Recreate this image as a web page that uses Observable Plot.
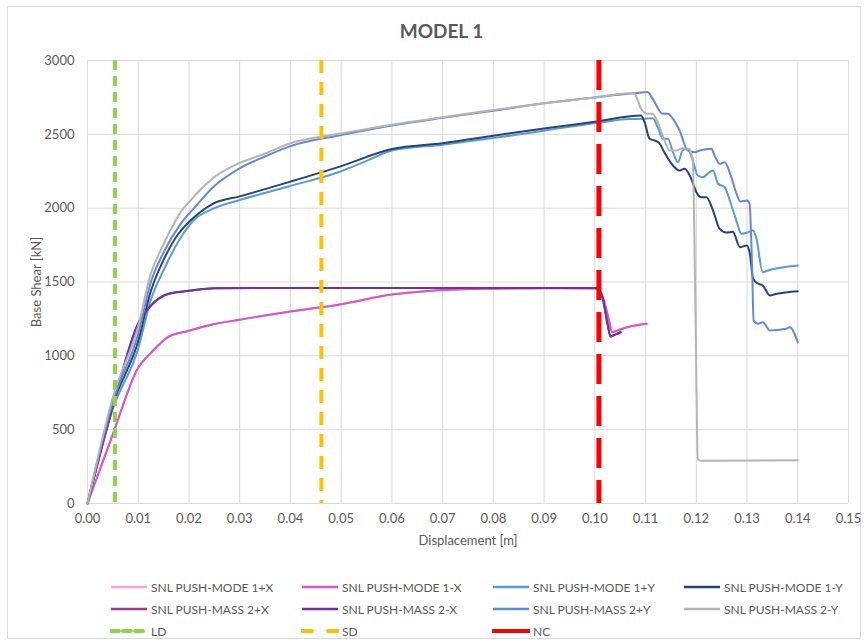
<!DOCTYPE html>
<html>
<head>
<meta charset="utf-8">
<script src="https://cdn.jsdelivr.net/npm/d3@7"></script>
<script src="https://cdn.jsdelivr.net/npm/@observablehq/plot@0.6"></script>
<style>
  html, body { margin: 0; padding: 0; background: #fff; }
  #wrap { position: relative; width: 865px; height: 644px; font-family: Lato, "Liberation Sans", Arial, sans-serif; color: #595959; overflow: hidden; }
  #frame { position: absolute; left: 7px; top: 6px; width: 854px; height: 633px; border: 1px solid #D9D9D9; box-sizing: border-box; }
  #title { position: absolute; left: 0; width: 883px; top: 19px; text-align: center; font-weight: bold; font-size: 19px; color: #595959; }
  #chart { position: absolute; left: 0; top: 0; }
  #legend { position: absolute; left: 0; top: 0; width: 865px; height: 644px; pointer-events: none; }
  .item { position: absolute; display: flex; align-items: center; font-size: 12px; color: #595959; white-space: nowrap; }
  .item svg { margin-right: 3px; }
</style>
</head>
<body>
<div id="wrap">
  <div id="frame"></div>
  <div id="chart"></div>
  <div id="title">MODEL 1</div>
  <div id="legend"></div>
</div>
<script>
// ---- tick values ----
const xTicks = [0, 0.01, 0.02, 0.03, 0.04, 0.05, 0.06, 0.07, 0.08, 0.09, 0.10, 0.11, 0.12, 0.13, 0.14, 0.15];
const yTicks = [0, 500, 1000, 1500, 2000, 2500, 3000];

// ---- series: [displacement m, base shear kN] ----
const mode1PosX = [[0,0],[0.005,470],[0.010,920],[0.0125,1020],[0.016,1130],[0.020,1170],[0.025,1215],[0.030,1245],[0.040,1300],[0.050,1350],[0.060,1415],[0.065,1432],[0.070,1445],[0.080,1455],[0.090,1458],[0.1005,1456],[0.1018,1375],[0.1028,1239],[0.1034,1160],[0.1044,1171],[0.1064,1194],[0.1102,1217]];
const mode1NegX = [[0,0],[0.005,470],[0.010,920],[0.0125,1020],[0.016,1130],[0.020,1170],[0.025,1215],[0.030,1245],[0.040,1300],[0.050,1350],[0.060,1415],[0.065,1432],[0.070,1445],[0.080,1455],[0.090,1458],[0.1005,1456],[0.1018,1375],[0.1028,1239],[0.1034,1160],[0.1044,1171],[0.1064,1194],[0.1102,1217]];
const mode1PosY = [[0,0],[0.005,640],[0.010,1050],[0.0125,1380],[0.015,1580],[0.018,1780],[0.021,1920],[0.025,2000],[0.030,2055],[0.040,2150],[0.050,2250],[0.055,2320],[0.060,2390],[0.070,2430],[0.080,2475],[0.090,2525],[0.100,2575],[0.1068,2603],[0.1095,2605],[0.1114,2609],[0.1124,2548],[0.1134,2470],[0.1144,2470],[0.1154,2379],[0.1164,2311],[0.1173,2391],[0.1183,2402],[0.1193,2323],[0.1203,2221],[0.1213,2210],[0.1226,2244],[0.1233,2255],[0.1243,2165],[0.1256,2142],[0.1266,2052],[0.1279,1916],[0.1289,1826],[0.1302,1837],[0.1312,1849],[0.1318,1803],[0.1331,1566],[0.1341,1578],[0.1400,1612]];
const mode1NegY = [[0,0],[0.005,670],[0.010,1100],[0.0125,1440],[0.015,1650],[0.018,1830],[0.0203,1916],[0.0248,2031],[0.030,2080],[0.040,2180],[0.050,2285],[0.060,2400],[0.070,2440],[0.080,2490],[0.090,2540],[0.100,2585],[0.1091,2627],[0.1098,2582],[0.1108,2470],[0.1118,2458],[0.1127,2440],[0.1137,2379],[0.1154,2289],[0.1167,2255],[0.1177,2267],[0.1190,2199],[0.1200,2110],[0.1210,2074],[0.1220,2074],[0.1233,1984],[0.1246,1860],[0.1259,1835],[0.1272,1840],[0.1286,1736],[0.1299,1747],[0.1305,1702],[0.1312,1522],[0.1322,1488],[0.1331,1476],[0.1345,1409],[0.1358,1420],[0.1400,1438]];
const mass2PosX = [[0,0],[0.005,660],[0.010,1220],[0.0125,1340],[0.016,1420],[0.020,1440],[0.025,1458],[0.050,1460],[0.100,1460],[0.1005,1455],[0.1015,1397],[0.1025,1217],[0.1031,1131],[0.1041,1145],[0.1051,1160]];
const mass2NegX = [[0,0],[0.005,660],[0.010,1220],[0.0125,1340],[0.016,1420],[0.020,1440],[0.025,1458],[0.050,1460],[0.100,1460],[0.1005,1455],[0.1015,1397],[0.1025,1217],[0.1031,1131],[0.1041,1145],[0.1051,1160]];
const mass2PosY = [[0,0],[0.005,690],[0.010,1150],[0.0125,1500],[0.015,1700],[0.0185,1900],[0.021,2000],[0.025,2150],[0.030,2270],[0.035,2350],[0.040,2420],[0.050,2495],[0.060,2560],[0.070,2612],[0.080,2660],[0.090,2710],[0.100,2750],[0.108,2780],[0.1104,2786],[0.1114,2740],[0.1134,2639],[0.1144,2639],[0.1154,2605],[0.1167,2526],[0.1183,2391],[0.1197,2379],[0.1207,2391],[0.1230,2402],[0.1236,2357],[0.1246,2300],[0.1256,2311],[0.1268,2220],[0.1278,2110],[0.1287,2045],[0.1300,2052],[0.1305,2030],[0.1310,1600],[0.1313,1240],[0.1322,1217],[0.1331,1228],[0.1345,1172],[0.1377,1183],[0.1384,1194],[0.1400,1092]];
const mass2NegY = [[0,0],[0.005,720],[0.010,1200],[0.0125,1560],[0.0145,1720],[0.0165,1860],[0.0183,1970],[0.0205,2060],[0.025,2210],[0.029,2290],[0.035,2370],[0.040,2440],[0.050,2505],[0.060,2565],[0.070,2615],[0.080,2665],[0.090,2710],[0.100,2750],[0.1068,2779],[0.1078,2775],[0.1085,2729],[0.1091,2673],[0.1104,2639],[0.1114,2639],[0.1121,2605],[0.1134,2492],[0.1147,2391],[0.1160,2391],[0.1173,2406],[0.1186,2402],[0.1190,2368],[0.1193,2330],[0.1198,1400],[0.1203,300],[0.1208,290],[0.1400,293]];

// ---- performance limits (displacement, m) ----
const limitNames = ["LD", "SD", "NC"];
const limitValues = [0.0054, 0.0461, 0.1008];

const seriesNames = ["SNL PUSH-MODE 1+X","SNL PUSH-MODE 1-X","SNL PUSH-MODE 1+Y","SNL PUSH-MODE 1-Y","SNL PUSH-MASS 2+X","SNL PUSH-MASS 2-X","SNL PUSH-MASS 2+Y","SNL PUSH-MASS 2-Y"];
const seriesColors = ["#F5A3D6","#D656C6","#5B9BD5","#264478","#983D8F","#7030A0","#6389D3","#B4B4B4"];
const seriesData = [mode1PosX, mode1NegX, mode1PosY, mode1NegY, mass2PosX, mass2NegX, mass2PosY, mass2NegY];
const limitColors = ["#92D050", "#FFC000", "#FF0000"];
const limitDash = ["10,6", "13,9", "30,12"];
const limitWidth = [4, 4, 5];

const lineMarks = seriesData.map((d, i) => Plot.line(d, {
  x: p => p[0], y: p => p[1], stroke: seriesColors[i], strokeWidth: 2, curve: "monotone-x"
}));
const limitMarks = limitValues.map((v, i) => Plot.ruleX([v], {
  stroke: limitColors[i], strokeWidth: limitWidth[i], strokeDasharray: limitDash[i]
}));

const chart = Plot.plot({
  width: 865, height: 560,
  marginTop: 60, marginBottom: 57, marginLeft: 87, marginRight: 17,
  style: { fontFamily: "Lato, 'Liberation Sans', Arial, sans-serif", fontSize: "13px", color: "#595959", background: "transparent" },
  x: { domain: [0, 0.15] },
  y: { domain: [0, 3000] },
  marks: [
    Plot.gridX(xTicks, { stroke: "#D9D9D9", strokeOpacity: 1 }),
    Plot.gridY(yTicks, { stroke: "#D9D9D9", strokeOpacity: 1 }),
    Plot.axisX({ ticks: xTicks, tickFormat: d => d.toFixed(2), tickSize: 0, tickPadding: 10,
      label: "Displacement [m]", labelAnchor: "center", labelArrow: "none", labelOffset: 41 }),
    Plot.axisY({ ticks: yTicks, tickFormat: d => String(d), tickSize: 0, tickPadding: 13,
      label: "Base Shear [kN]", labelAnchor: "center", labelArrow: "none", labelOffset: 56 }),
    ...lineMarks,
    ...limitMarks
  ]
});
document.getElementById("chart").appendChild(chart);

// ---- legend ----
const legend = document.getElementById("legend");
const colX = [110, 301, 492, 683];
const rowY = [587, 609, 631];
function addItem(label, col, row, swatch) {
  const div = document.createElement("div");
  div.className = "item";
  div.style.left = colX[col] + "px";
  div.style.top = (rowY[row] - 8) + "px";
  div.innerHTML = swatch + "<span>" + label + "</span>";
  legend.appendChild(div);
}
seriesNames.forEach((n, i) => {
  addItem(n, i % 4, Math.floor(i / 4),
    `<svg width="38" height="16"><line x1="1" x2="37" y1="8" y2="8" stroke="${seriesColors[i]}" stroke-width="2.5"/></svg>`);
});
const legendDash = ["8,4", "10,16", "none"];
limitNames.forEach((n, i) => {
  addItem(n, i, 2,
    `<svg width="38" height="16"><line x1="1" x2="37" y1="8" y2="8" stroke="${limitColors[i]}" stroke-width="4" stroke-linecap="round" stroke-dasharray="${legendDash[i]}"/></svg>`);
});
</script>
</body>
</html>
